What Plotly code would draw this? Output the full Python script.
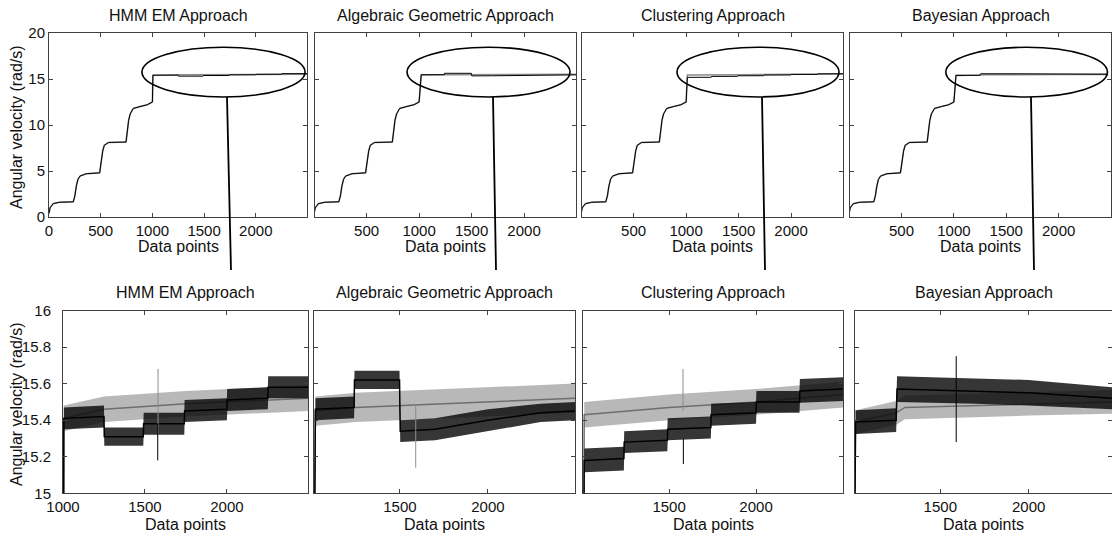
import plotly.graph_objects as go

# ---------------- data ----------------
titles = ["HMM EM Approach", "Algebraic Geometric Approach",
          "Clustering Approach", "Bayesian Approach"]

# shared staircase part of the angular-velocity record (data points 0..1000)
stair_x = [0, 10, 40, 100, 235, 250, 265, 280, 300, 360, 490, 505, 520, 535,
           575, 745, 755, 770, 785, 815, 880, 950, 1000]
stair_y = [0.4, 1.0, 1.45, 1.6, 1.65, 2.3, 3.4, 4.1, 4.45, 4.7, 4.8, 6.0, 7.2,
           7.8, 8.1, 8.15, 9.4, 10.5, 11.2, 11.8, 12.0, 12.2, 12.5]

# after the last step: estimated (black) signal, centre level and noise half-width
hmm_est_x = [1005, 1250, 1252, 1490, 1492, 1740, 1742, 2000, 2002, 2250, 2252, 2495]
hmm_est_y = [15.41, 15.42, 15.31, 15.31, 15.38, 15.38, 15.45, 15.46, 15.51, 15.52, 15.58, 15.58]
hmm_est_a = [0.06, 0.06, 0.05, 0.05, 0.06, 0.06, 0.06, 0.06, 0.06, 0.06, 0.06, 0.06]

alg_est_x = [1020, 1240, 1242, 1498, 1502, 1700, 2000, 2300, 2495]
alg_est_y = [15.46, 15.47, 15.62, 15.62, 15.34, 15.35, 15.40, 15.44, 15.45]
alg_est_a = [0.06, 0.06, 0.05, 0.05, 0.06, 0.06, 0.06, 0.05, 0.05]

clu_est_x = [1012, 1240, 1242, 1490, 1492, 1740, 1742, 2000, 2002, 2250, 2252, 2500]
clu_est_y = [15.18, 15.19, 15.28, 15.29, 15.35, 15.36, 15.43, 15.44, 15.50, 15.50, 15.56, 15.57]
clu_est_a = [0.065, 0.065, 0.06, 0.06, 0.06, 0.06, 0.06, 0.06, 0.06, 0.06, 0.065, 0.065]

bay_est_x = [1020, 1250, 1255, 1700, 2000, 2472]
bay_est_y = [15.39, 15.40, 15.57, 15.56, 15.55, 15.52]
bay_est_a = [0.065, 0.065, 0.07, 0.07, 0.07, 0.06]

# measured (grey) signal
hmm_mea_x = [1005, 1250, 1750, 2000, 2495]
hmm_mea_y = [15.41, 15.46, 15.49, 15.50, 15.52]
hmm_mea_a = [0.07, 0.07, 0.07, 0.07, 0.07]

alg_mea_x = [1020, 1250, 1750, 2495]
alg_mea_y = [15.45, 15.47, 15.49, 15.52]
alg_mea_a = [0.08, 0.08, 0.08, 0.08]

clu_mea_x = [1012, 1500, 2000, 2500]
clu_mea_y = [15.43, 15.47, 15.50, 15.54]
clu_mea_a = [0.07, 0.07, 0.07, 0.07]

bay_mea_x = [1020, 1250, 1300, 2000, 2472]
bay_mea_y = [15.39, 15.44, 15.47, 15.49, 15.50]
bay_mea_a = [0.065, 0.065, 0.065, 0.065, 0.065]

# isolated outlier spikes: x, low, high
hmm_spk = {"grey": (1580, 15.32, 15.68), "black": (1578, 15.18, 15.38)}
alg_spk = {"grey": (1590, 15.14, 15.48)}
clu_spk = {"grey": (1580, 15.45, 15.68), "black": (1582, 15.16, 15.30)}
bay_spk = {"black": (1590, 15.28, 15.75)}

est = [(hmm_est_x, hmm_est_y, hmm_est_a), (alg_est_x, alg_est_y, alg_est_a),
       (clu_est_x, clu_est_y, clu_est_a), (bay_est_x, bay_est_y, bay_est_a)]
mea = [(hmm_mea_x, hmm_mea_y, hmm_mea_a), (alg_mea_x, alg_mea_y, alg_mea_a),
       (clu_mea_x, clu_mea_y, clu_mea_a), (bay_mea_x, bay_mea_y, bay_mea_a)]
spikes = [hmm_spk, alg_spk, clu_spk, bay_spk]

top_ticks_x = [0, 500, 1000, 1500, 2000]
top_ticks_y = [0, 5, 10, 15, 20]
bot_ticks_x = [1000, 1500, 2000]
bot_ticks_y = [15, 15.2, 15.4, 15.6, 15.8, 16]

# ---------------- layout geometry ----------------
W, H = 1112, 538
top_px = [(49, 307), (315, 576), (582, 843), (850, 1111)]
bot_px = [(63, 308), (314, 575), (583, 843), (855, 1112)]
top_py = (33, 217)
bot_py = (310.5, 493.3)
top_xr = [[0, 2495], [8, 2495], [8, 2495], [8, 2500]]
bot_xr = [[1000, 2495], [1012, 2495], [1005, 2500], [1017, 2472]]
ell_x = [(899, 2476), (885, 2438), (913, 2457), (923, 2466)]
link_px = [((227, 97), (231, 270)), ((493, 97), (496, 270)),
           ((762, 97), (765, 270)), ((1031, 97), (1034, 270))]

FONT = "Liberation Sans, Arial, sans-serif"
BLACK = "#000000"
GREY = "#8c8c8c"

fig = go.Figure()


def band(x, y, a):
    up = [v + d for v, d in zip(y, a)]
    lo = [v - d for v, d in zip(y, a)]
    return list(x) + list(x)[::-1], up + lo[::-1]


for i in range(4):
    ti, bi = 2 * i + 1, 2 * i + 2
    tx, ty = ("x" if ti == 1 else f"x{ti}"), ("y" if ti == 1 else f"y{ti}")
    bx, by = f"x{bi}", f"y{bi}"
    ex, ey, ea = est[i]
    mx, my, ma = mea[i]

    # top row: full record
    fig.add_trace(go.Scatter(x=stair_x + mx, y=stair_y + my, mode="lines",
                             line=dict(color=GREY, width=1.6), xaxis=tx, yaxis=ty,
                             showlegend=False, hoverinfo="skip"))
    fig.add_trace(go.Scatter(x=stair_x + ex, y=stair_y + ey, mode="lines",
                             line=dict(color=BLACK, width=1), xaxis=tx, yaxis=ty,
                             showlegend=False, hoverinfo="skip"))

    # bottom row: zoom on the last level
    gx, gy = band(mx, my, ma)
    fig.add_trace(go.Scatter(x=gx, y=gy, mode="lines", fill="toself",
                             line=dict(width=0, color=GREY),
                             fillcolor="rgba(160,160,160,0.75)",
                             xaxis=bx, yaxis=by, showlegend=False, hoverinfo="skip"))
    fig.add_trace(go.Scatter(x=stair_x + mx, y=stair_y + my, mode="lines",
                             line=dict(color="#6e6e6e", width=1.5), xaxis=bx, yaxis=by,
                             showlegend=False, hoverinfo="skip"))
    kx, ky = band(ex, ey, ea)
    fig.add_trace(go.Scatter(x=kx, y=ky, mode="lines", fill="toself",
                             line=dict(width=0, color=BLACK),
                             fillcolor="rgba(10,10,10,0.82)",
                             xaxis=bx, yaxis=by, showlegend=False, hoverinfo="skip"))
    fig.add_trace(go.Scatter(x=stair_x + ex, y=stair_y + ey, mode="lines",
                             line=dict(color=BLACK, width=1.5), xaxis=bx, yaxis=by,
                             showlegend=False, hoverinfo="skip"))
    for col, (sx, s0, s1) in spikes[i].items():
        fig.add_trace(go.Scatter(x=[sx, sx], y=[s0, s1], mode="lines",
                                 line=dict(color=(GREY if col == "grey" else BLACK), width=1),
                                 xaxis=bx, yaxis=by, showlegend=False, hoverinfo="skip"))

    axis_common = dict(showline=True, linecolor="#404040", linewidth=1, mirror="ticks",
                       ticks="inside", ticklen=4, tickcolor="#404040", showgrid=False,
                       zeroline=False, automargin=False,
                       tickfont=dict(family=FONT, size=15, color="#111111"))
    tkey = "xaxis" if ti == 1 else f"xaxis{ti}"
    tykey = "yaxis" if ti == 1 else f"yaxis{ti}"
    fig.layout[tkey] = dict(axis_common, domain=[top_px[i][0] / W, top_px[i][1] / W],
                            range=top_xr[i], tickvals=top_ticks_x, anchor=ty)
    fig.layout[tykey] = dict(axis_common, domain=[1 - top_py[1] / H, 1 - top_py[0] / H],
                             range=[0, 20], tickvals=top_ticks_y, anchor=tx,
                             showticklabels=(i == 0), ticklabelstandoff=0)
    fig.layout[f"xaxis{bi}"] = dict(axis_common, domain=[bot_px[i][0] / W, bot_px[i][1] / W],
                                    range=bot_xr[i], tickvals=bot_ticks_x, anchor=by)
    fig.layout[f"yaxis{bi}"] = dict(axis_common, domain=[1 - bot_py[1] / H, 1 - bot_py[0] / H],
                                    range=[15, 16], tickvals=bot_ticks_y, anchor=bx,
                                    showticklabels=(i == 0), ticklabelstandoff=8)

    # titles and axis labels
    tc = (top_px[i][0] + top_px[i][1]) / 2 / W
    bc = (bot_px[i][0] + min(bot_px[i][1], 1112)) / 2 / W
    for txt, xx, yy in [(titles[i], tc, 15), (titles[i], bc, 292),
                        ("Data points", tc, 246), ("Data points", bc, 524)]:
        fig.add_annotation(text=txt, x=xx, y=1 - yy / H, xref="paper", yref="paper",
                           showarrow=False, xanchor="center", yanchor="middle",
                           font=dict(family=FONT, size=16, color="#111111"))

    # zoom ellipse and link line
    fig.add_shape(type="circle", xref=tx, yref=ty, x0=ell_x[i][0], x1=ell_x[i][1],
                  y0=13.05, y1=18.45, line=dict(color="#000000", width=1.6))
    (a0, b0), (a1, b1) = link_px[i]
    fig.add_shape(type="line", xref="paper", yref="paper", x0=a0 / W, y0=1 - b0 / H,
                  x1=a1 / W, y1=1 - b1 / H, line=dict(color="#000000", width=1.8))

for yy in (127, 404):
    fig.add_annotation(text="Angular velocity (rad/s)", x=16 / W, y=1 - yy / H,
                       xref="paper", yref="paper", showarrow=False, textangle=-90,
                       xanchor="center", yanchor="middle",
                       font=dict(family=FONT, size=16, color="#111111"))

fig.update_layout(width=W, height=H,
                  margin=dict(l=0, r=0, t=0, b=0, pad=0, autoexpand=False),
                  paper_bgcolor="white", plot_bgcolor="white")

fig.write_html("out.html")
